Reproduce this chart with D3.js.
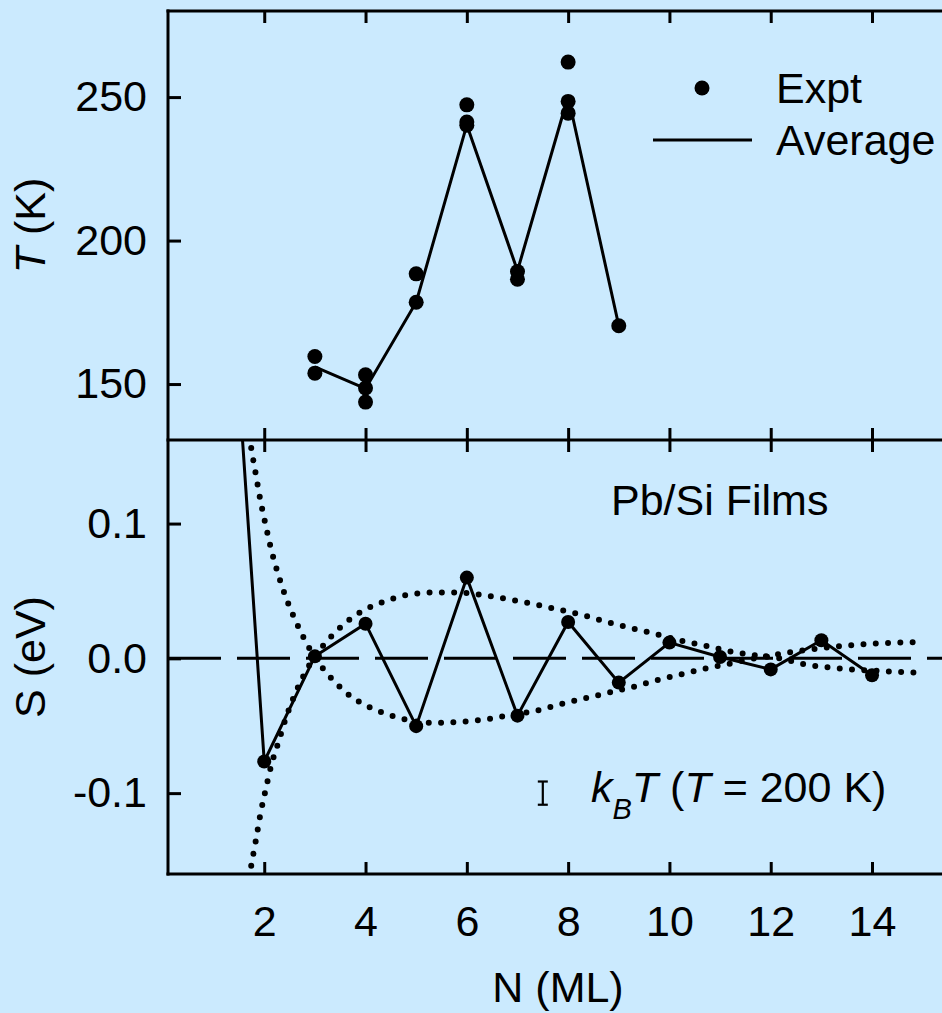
<!DOCTYPE html>
<html>
<head>
<meta charset="utf-8">
<script src="https://cdn.jsdelivr.net/npm/d3@7"></script>
<style>
  body { margin: 0; background: #cbeafe; }
  svg { display: block; font-family: "Liberation Sans", Arial, sans-serif; }
</style>
</head>
<body>
<div id="root"></div>
<script>
// tick values
const nTicks = [2, 4, 6, 8, 10, 12, 14];
const tTicks = [150, 200, 250];
const sTicks = [-0.1, 0.0, 0.1];

// upper panel: measured temperatures and their average
const exptN = [3, 3, 4, 4, 4, 5, 5, 6, 6, 6, 7, 7, 8, 8, 8, 9];
const exptT = [159.6, 153.8, 153.2, 148.6, 143.7, 188.4, 178.5, 247.3, 241.3, 240.2, 189.2, 186.5, 262.2, 248.5, 244.4, 170.3];
const avgN = [3, 4, 5, 6, 7, 8, 9];
const avgT = [156.0, 148.4, 178.5, 240.3, 189.5, 250.3, 170.3];

// lower panel: S(N)
const sN = [1, 2, 3, 4, 5, 6, 7, 8, 9, 10, 11, 12, 13, 14];
const sVal = [0.48, -0.0765, 0.0015, 0.0257, -0.0503, 0.0599, -0.0425, 0.027, -0.018, 0.0117, 0.001, -0.0082, 0.0134, -0.0126];

// dotted envelopes
const envA = [
  [1.743, 0.156], [1.836, 0.136], [1.921, 0.118], [2.026, 0.0993], [2.138, 0.0807],
  [2.27, 0.063], [2.428, 0.0452], [2.606, 0.0289], [2.815, 0.0126], [2.973, 0.0022],
  [3.204, -0.0096], [3.546, -0.023], [3.731, -0.0289], [3.94, -0.0336], [4.388, -0.041],
  [4.868, -0.0459], [5.361, -0.0479], [5.855, -0.0472], [6.348, -0.0454], [6.835, -0.0422],
  [7.348, -0.039], [7.822, -0.0343], [8.301, -0.0299], [8.775, -0.0257], [9.273, -0.0213],
  [9.75, -0.0163], [10.224, -0.0119], [10.703, -0.0076], [11.197, -0.0039], [11.69, 0],
  [12.42, 0.0047], [13.4, 0.0091], [14.4, 0.0116], [14.9, 0.012]
];
const envB = [
  [1.743, -0.1539], [1.836, -0.1348], [1.921, -0.1163], [2.026, -0.0978], [2.138, -0.0795],
  [2.282, -0.062], [2.428, -0.0442], [2.598, -0.0274], [2.809, -0.0106], [2.973, 0],
  [3.204, 0.0113], [3.546, 0.0244], [3.731, 0.0301], [3.933, 0.035], [4.388, 0.0424],
  [4.868, 0.0474], [5.361, 0.0489], [5.855, 0.0487], [6.348, 0.0467], [6.841, 0.0437],
  [7.335, 0.0402], [7.822, 0.0361], [8.301, 0.0319], [8.775, 0.0269], [9.256, 0.0224],
  [9.75, 0.0178], [10.21, 0.0133], [10.703, 0.0094], [11.197, 0.0052], [11.69, 0.0022],
  [12.18, 0], [12.66, -0.0044], [13.155, -0.0067], [13.66, -0.0084], [14.155, -0.0094],
  [14.9, -0.0106]
];

// k_B T at 200 K (eV), drawn as a bar
const kbtN = 7.5;
const kbtS = -0.1;
const kbtLen = 0.01723;

const legendItems = ["Expt", "Average"];

let init = () => {
  const W = 942, H = 1013;
  const left = 168, right = 948, top = 11, mid = 440, bottom = 874;
  const fs = 43;

  let svg = d3
    .select("#root")
    .append("svg")
    .attr("width", W)
    .attr("height", H);

  svg.append("rect")
    .attr("width", W)
    .attr("height", H)
    .attr("fill", "#cbeafe");

  let x = d3.scaleLinear().domain([0.1, 15.5]).range([left, right]);
  let yT = d3.scaleLinear().domain([130.5, 280]).range([mid, top]);
  let yS = d3.scaleLinear().domain([-0.16, 0.162]).range([bottom, mid]);

  let defs = svg.append("defs");
  defs.append("clipPath").attr("id", "clipTop")
    .append("rect").attr("x", left).attr("y", top).attr("width", right - left).attr("height", mid - top);
  defs.append("clipPath").attr("id", "clipBot")
    .append("rect").attr("x", left).attr("y", mid).attr("width", right - left).attr("height", bottom - mid);

  // ---- lower panel ----
  let bot = svg.append("g").attr("clip-path", "url(#clipBot)");

  let envLine = d3.line()
    .curve(d3.curveMonotoneX)
    .x(d => x(d[0]))
    .y(d => yS(d[1]));
  [envA, envB].forEach(env => {
    bot.append("path")
      .attr("d", envLine(env))
      .attr("fill", "none")
      .attr("stroke", "#000")
      .attr("stroke-width", 6)
      .attr("stroke-linecap", "round")
      .attr("stroke-dasharray", "0 12.3");
  });

  // zero line
  bot.append("line")
    .attr("x1", left)
    .attr("x2", right)
    .attr("y1", yS(0))
    .attr("y2", yS(0))
    .attr("stroke", "#000")
    .attr("stroke-width", 3)
    .attr("stroke-dasharray", "53 16");

  let sData = sN.map((n, i) => [n, sVal[i]]);
  bot.append("path")
    .attr("d", d3.line().x(d => x(d[0])).y(d => yS(d[1]))(sData))
    .attr("fill", "none")
    .attr("stroke", "#000")
    .attr("stroke-width", 3);
  bot.selectAll("circle")
    .data(sData.filter(d => d[0] >= 2))
    .join("circle")
    .attr("cx", d => x(d[0]))
    .attr("cy", d => yS(d[1]))
    .attr("r", 7);

  // kBT bar
  let kb = svg.append("g").attr("stroke", "#000").attr("stroke-width", 2.2);
  kb.append("line")
    .attr("x1", x(kbtN)).attr("x2", x(kbtN))
    .attr("y1", yS(kbtS + kbtLen / 2)).attr("y2", yS(kbtS - kbtLen / 2));
  [kbtS + kbtLen / 2, kbtS - kbtLen / 2].forEach(v => {
    kb.append("line")
      .attr("x1", x(kbtN) - 5).attr("x2", x(kbtN) + 5)
      .attr("y1", yS(v)).attr("y2", yS(v));
  });

  let kt = svg.append("text")
    .attr("x", 591)
    .attr("y", 802)
    .attr("font-size", fs);
  kt.append("tspan").attr("font-style", "italic").text("k");
  kt.append("tspan").attr("font-style", "italic").attr("font-size", 29).attr("dy", 17).text("B");
  kt.append("tspan").attr("font-style", "italic").attr("dy", -17).text("T");
  kt.append("tspan").text(" (");
  kt.append("tspan").attr("font-style", "italic").text("T");
  kt.append("tspan").text(" = 200 K)");

  svg.append("text")
    .attr("x", 611)
    .attr("y", 515)
    .attr("font-size", fs)
    .text("Pb/Si Films");

  // ---- upper panel ----
  let up = svg.append("g").attr("clip-path", "url(#clipTop)");
  up.append("path")
    .attr("d", d3.line().x((d, i) => x(d)).y((d, i) => yT(avgT[i]))(avgN))
    .attr("fill", "none")
    .attr("stroke", "#000")
    .attr("stroke-width", 3);
  up.selectAll("circle")
    .data(exptN)
    .join("circle")
    .attr("cx", d => x(d))
    .attr("cy", (d, i) => yT(exptT[i]))
    .attr("r", 7.5);

  // legend
  let lg = svg.append("g").attr("font-size", fs);
  lg.append("circle").attr("cx", 702).attr("cy", 88).attr("r", 7.5);
  lg.append("line")
    .attr("x1", 653).attr("x2", 752)
    .attr("y1", 140).attr("y2", 140)
    .attr("stroke", "#000")
    .attr("stroke-width", 3);
  lg.selectAll("text")
    .data(legendItems)
    .join("text")
    .attr("x", 776)
    .attr("y", (d, i) => 103 + i * 52)
    .text(d => d);

  // ---- axes (ticks inward) ----
  let styleAxis = g => {
    g.select(".domain").remove();
    g.selectAll("line").attr("stroke", "#000").attr("stroke-width", 3);
    g.selectAll("text")
      .attr("font-size", fs)
      .attr("font-family", "Liberation Sans, Arial, sans-serif")
      .attr("fill", "#000");
  };
  svg.append("g").attr("transform", `translate(0,${top})`)
    .call(d3.axisBottom(x).tickValues(nTicks).tickSize(12).tickFormat(""))
    .call(styleAxis);
  svg.append("g").attr("transform", `translate(0,${mid})`)
    .call(d3.axisTop(x).tickValues(nTicks).tickSize(12).tickFormat(""))
    .call(styleAxis);
  svg.append("g").attr("transform", `translate(0,${mid})`)
    .call(d3.axisBottom(x).tickValues(nTicks).tickSize(12).tickFormat(""))
    .call(styleAxis);
  svg.append("g").attr("transform", `translate(0,${bottom})`)
    .call(d3.axisBottom(x).tickValues(nTicks).tickSize(-12).tickPadding(31).tickFormat(d3.format("d")))
    .call(styleAxis);
  svg.append("g").attr("transform", `translate(${left},0)`)
    .call(d3.axisLeft(yT).tickValues(tTicks).tickSize(-13).tickPadding(21).tickFormat(d3.format("d")))
    .call(styleAxis);
  svg.append("g").attr("transform", `translate(${left},0)`)
    .call(d3.axisLeft(yS).tickValues(sTicks).tickSize(-13).tickPadding(21).tickFormat(d => d.toFixed(1)))
    .call(styleAxis);

  // frame
  let fr = svg.append("g").attr("stroke", "#000").attr("stroke-width", 3).attr("stroke-linecap", "square");
  [top, mid, bottom].forEach(yy => {
    fr.append("line").attr("x1", left).attr("x2", right).attr("y1", yy).attr("y2", yy);
  });
  fr.append("line").attr("x1", left).attr("x2", left).attr("y1", top).attr("y2", bottom);

  // axis titles
  svg.append("text")
    .attr("x", (left + right) / 2)
    .attr("y", 1002)
    .attr("text-anchor", "middle")
    .attr("font-size", fs)
    .text("N (ML)");

  let tt = svg.append("text")
    .attr("transform", `translate(45,${(top + mid) / 2}) rotate(-90)`)
    .attr("text-anchor", "middle")
    .attr("font-size", fs);
  tt.append("tspan").attr("font-style", "italic").text("T");
  tt.append("tspan").text(" (K)");

  svg.append("text")
    .attr("transform", `translate(45,${(mid + bottom) / 2}) rotate(-90)`)
    .attr("text-anchor", "middle")
    .attr("font-size", fs)
    .text("S (eV)");
};

window.onload = function() {
  init();
};
</script>
</body>
</html>
